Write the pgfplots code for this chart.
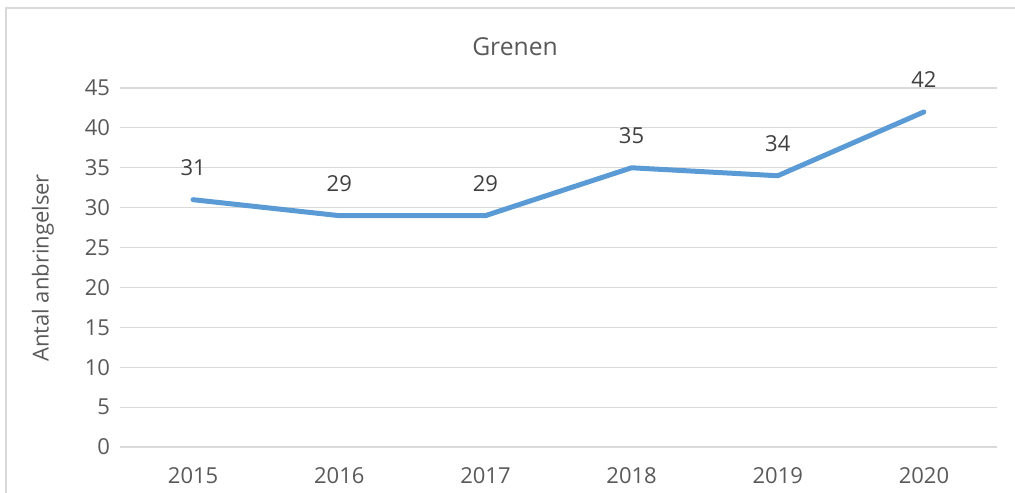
\documentclass[border=0pt]{standalone}
\usepackage{pgfplots}
\pgfplotsset{compat=1.18}
\usepackage{fontspec}
\setmainfont{Open Sans}
\definecolor{gridc}{HTML}{D9D9D9}
\definecolor{txt}{HTML}{595959}
\definecolor{lbl}{HTML}{404040}
\definecolor{linec}{HTML}{5B9BD5}
\begin{document}
\begin{tikzpicture}
\path[use as bounding box] (-90pt,-34.5pt) rectangle (671.25pt,335.25pt);
\draw[gridc, line width=1.2pt] (675pt,329.25pt) -- (-85.5pt,329.25pt) -- (-85.5pt,-40pt);
\begin{axis}[
  at={(0,0)}, anchor=south west,
  scale only axis, width=657.75pt, height=269.25pt,
  xmin=-0.5, xmax=5.5, ymin=0, ymax=45,
  xtick={0,1,2,3,4,5}, xticklabels={2015,2016,2017,2018,2019,2020},
  ytick={0,5,...,45},
  axis line style={draw=none},
  ymajorgrids=true, xmajorgrids=false,
  grid style={draw=gridc, line width=0.9pt},
  major tick length=0pt,
  tick label style={font=\fontsize{16.5}{19}\selectfont, text=txt},
  /pgf/number format/assume math mode=true,
  yticklabel style={xshift=-4pt},
  xticklabel style={yshift=-12pt},
  clip=false,
]
\addplot[linec, line width=3.75pt, line join=round, line cap=round,
  nodes near coords, every node near coord/.append style={font=\fontsize{16.5}{19}\selectfont, text=lbl, anchor=center, yshift=24pt}]
  coordinates {(0,31) (1,29) (2,29) (3,35) (4,34) (5,42)};
\end{axis}
\node[text=txt, font=\fontsize{18.5}{22}\selectfont] at (296.25pt,300pt) {Grenen};
\node[text=txt, font=\fontsize{16.5}{19}\selectfont, rotate=90] at (-57.75pt,134.25pt) {Antal anbringelser};
\end{tikzpicture}
\end{document}
